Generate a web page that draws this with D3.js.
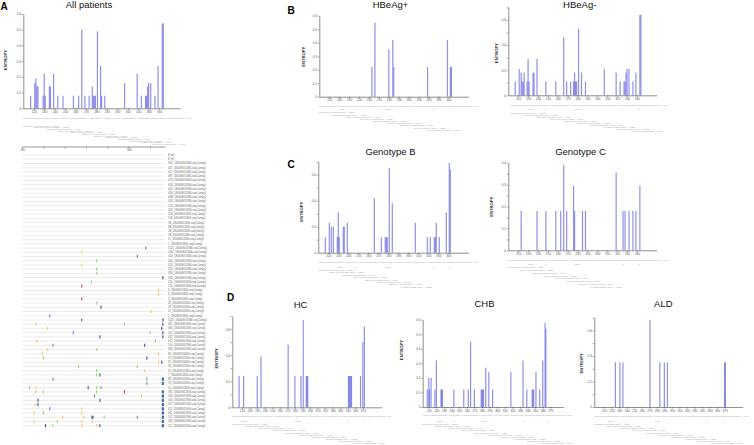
<!DOCTYPE html>
<html><head><meta charset="utf-8">
<script src="https://cdn.jsdelivr.net/npm/d3@7"></script>
<style>body{margin:0;background:#fff}svg{display:block}text{font-family:"Liberation Sans",Arial,Helvetica,sans-serif}</style>
</head><body><svg id="c" width="754" height="445"></svg>
<script>
// ---------------- DATA ----------------
const posTicks = [220,230,240,250,260,270,280,290,300,310,320,330,340];
const dTicks = [210,220,230,240,250,260,270,280,290,300,310,320,330,340,350,360,370];

const allPos = [217,221,222,223,224,229,230,231,235,236,239,243,248,258,263,266,269,273,276,277,278,279,281,284,285,288,307,319,323,327,328,329,330,332,336,339,343,344];
const allVal = [0.08,0.16,0.19,0.14,0.14,0.08,0.22,0.08,0.14,0.14,0.22,0.08,0.08,0.08,0.08,0.50,0.08,0.08,0.14,0.08,0.08,0.08,0.49,0.27,0.08,0.08,0.16,0.22,0.08,0.08,0.08,0.14,0.16,0.16,0.08,0.27,0.54,0.54];

const hbPlusPos = [263,266,280,284,285,319,339,342,343];
const hbPlusVal = [0.22,0.55,0.35,0.42,0.22,0.22,0.42,0.22,0.22];

const hbMinusPos = [217,221,223,224,225,226,229,230,231,235,236,239,248,258,266,269,273,276,277,278,279,281,284,288,307,319,323,327,328,329,330,332,336,339,343,344];
const hbMinusVal = [0.11,0.21,0.18,0.11,0.11,0.18,0.11,0.29,0.11,0.18,0.18,0.29,0.11,0.11,0.46,0.11,0.11,0.11,0.18,0.11,0.11,0.53,0.18,0.11,0.21,0.18,0.11,0.11,0.11,0.18,0.21,0.21,0.11,0.18,0.64,0.64];

const genBPos = [217,221,223,225,229,230,231,235,236,239,266,273,277,278,279,281,284,307,319,322,326,327,328,331,338,341,342];
const genBVal = [0.12,0.23,0.2,0.2,0.12,0.31,0.12,0.2,0.2,0.23,0.42,0.12,0.12,0.12,0.12,0.65,0.38,0.23,0.12,0.12,0.12,0.12,0.23,0.12,0.31,0.69,0.64];

const genCPos = [223,239,248,258,263,266,269,276,277,285,288,319,326,328,332,336,339,343];
const genCVal = [0.18,0.18,0.18,0.18,0.18,0.39,0.18,0.295,0.18,0.18,0.18,0.355,0.18,0.18,0.18,0.18,0.18,0.295];

const hcPos = [206,212,230,235,271,280,288,291,295,296,297,351,352,353,354,355,367,370,372];
const hcVal = [0.24,0.24,0.24,0.39,0.48,0.24,0.24,0.67,0.24,0.24,0.24,0.24,0.24,0.24,0.24,0.24,0.24,0.5,0.62];

const chbPos = [208,210,211,213,218,220,226,227,228,243,256,262,265,270,279,280,281,282,285,289,294,318,334,339,346,347,348,351,356,360,363,364];
const chbVal = [0.12,0.2,0.12,0.2,0.12,0.32,0.12,0.12,0.12,0.12,0.12,0.12,0.45,0.12,0.12,0.12,0.12,0.12,0.27,0.24,0.12,0.24,0.32,0.12,0.12,0.12,0.12,0.24,0.12,0.32,0.58,0.54];

const aldPos = [225,231,235,271,284,290,294,370,371];
const aldVal = [0.35,0.35,0.35,0.68,0.35,0.35,0.35,0.35,0.35];

// alignment (panel A bottom)
const rowIds = ["B (m)","E (m)","56U","46T","45T","49T","47S","40S","40D","43D","40R","41D","22D","20D","11B","11B","7B","8B","2B","1B","11","1","1023","1062","41D","44D","42D","32D","33D","29D","11D","11D","8","3","3","26","28","21","2","1023","381","480","442","437","412","510","356","86","87","81","36","35","7","88","74","10","332","436","456","447","411","461","512","336","112"];
const rulerTicks = [200,220,240,260,280,300,320];
const markRow = [22,23,24,25,26,27,28,29,30,31,32,33,34,35,36,37,38,39,39,40,40,40,41,41,42,42,42,43,43,44,44,45,45,46,46,47,47,48,48,49,49,50,50,51,51,52,52,53,53,53,54,54,55,55,55,55,55,56,56,56,56,56,57,57,57,58,58,58,59,59,59,60,60,60,61,61,61,61,62,62,62,62,62,62,63,63,63,63,63,64,64,64,64,64,64];
const markPos = [316,256,308,270,256,270,270,332,265,256,328,328,256,270,274,321,226,256,332,213,296,332,224,331,248,320,332,273,332,214,325,229,315,224,270,219,328,220,317,328,331,253,308,270,315,270,273,229,317,332,317,332,207,213,262,270,274,213,220,270,296,332,268,312,332,215,273,332,213,215,332,226,256,332,211,220,256,332,238,258,266,277,308,332,211,233,256,266,332,222,229,256,270,273,332];
const markBase = ["N","G","N","A","G","A","A","C","A","T","G","G","T","A","C","G","R","T","C","G","A","C","G","C","R","A","C","C","C","G","A","N","C","G","A","G","G","A","C","G","C","A","A","A","G","A","C","N","N","-","N","-","A","G","C","A","N","G","A","A","T","-","N","G","-","C","C","-","G","C","-","R","G","-","G","A","G","-","G","G","-","A","N","-","G","A","G","G","-","C","A","G","G","C","-"];

const consensus = "CTCGTGGTGGACTTCTCTCAATTTTCTAGGGGGAACACCCGTGTGTCTTGGCCAAAATTCGCAGTCCCAAATCTCCAGTCACTCACCAACCTGTTGTCCTCCAATTTGTCCTGGTTATCGCTGGATGTGTCTGCGGCG";
const groupNames = ["Consensus_all","B180409051","C180409051","HBeAg_pos","HBeAg_neg","Genotype_B","Genotype_C","HC_group","CHB_group","ALD_group","LC_group","HCC_group"];
const groupEntropy = ["0.2395","0.1883","0.0996","0.2016","0.1554","0.1772","0.0854","0.1321","0.0702","0.1245","0.1108","0.0931"];
const siteCounts = ["1,0,3","1","1,1,2","1","1"];
const siteCountPos = [232,248,279,326,342];
const hcCountPos = [211,247,284,351,371];
const chbCountPos = [224,243,283,335,366];
const aldCountPos = [218,239,281,347,370];

// ---------------- DRAW ----------------
const svg = d3.select("#c");
svg.append("rect").attr("width",754).attr("height",445).attr("fill","#fff");
const BAR = "#6c6ce0";
const baseColor = {A:"#86d96a",G:"#f0c860",T:"#b8403c",C:"#3a3aa0",N:"#6f8399",R:"#7b70d8","-":"#4a6fa5"};

// tiny text whose font size is fitted (never enlarged) so its natural width is at most len
function tiny(x, y, str, len, size, color) {
  const t = svg.append("text").attr("x", x).attr("font-size", size).attr("fill", color || "#888").text(str);
  const w = t.node().getComputedTextLength();
  const fs = w > len ? size * len / w : size;
  t.attr("font-size", fs).attr("y", y + fs * 0.35);
}

function yTickSet(max, step, labelEvery) {
  const n = Math.round(max/step);
  const vals = d3.range(n+1).map(i => +(i*step).toFixed(3));
  const labs = vals.map((v,i) => (i % labelEvery === 0) ? (v===0 ? "0" : d3.format(".1f")(v)) : "");
  return {vals, labs};
}

function barPanel(p) {
  const g = svg.append("g");
  const x = d3.scaleLinear().domain(p.xDomain).range([p.x0, p.x1]);
  const y = d3.scaleLinear().domain([0, p.yMax]).range([p.y0, p.yTop]);
  const data = p.pos.map((d,i) => ({pos:d, val:p.val[i]}));
  g.selectAll("rect.bar").data(data).join("rect").attr("class","bar")
    .attr("x", d => x(d.pos) - 0.6).attr("width", 1.2)
    .attr("y", d => y(d.val)).attr("height", d => y(0) - y(d.val))
    .attr("fill", BAR).attr("fill-opacity", 0.75);
  const yt = yTickSet(p.yMax, p.yStep, p.yLabelEvery);
  const ya = g.append("g").attr("transform", `translate(${p.x0},0)`)
    .call(d3.axisLeft(y).tickValues(yt.vals).tickSize(1.6).tickSizeOuter(0).tickPadding(0.8)
      .tickFormat((d,i) => yt.labs[i]));
  const xa = g.append("g").attr("transform", `translate(0,${p.y0})`)
    .call(d3.axisBottom(x).tickValues(p.xTicks.filter(t => t >= p.xDomain[0] && t <= p.xDomain[1]))
      .tickSize(1.6).tickSizeOuter(0).tickPadding(0.8));
  [ya, xa].forEach(a => {
    a.selectAll("path.domain").attr("stroke","#444").attr("stroke-width",0.6);
    a.selectAll("line").attr("stroke","#444").attr("stroke-width",0.5);
    a.selectAll("text").attr("font-size",3).attr("fill","#555").attr("font-family",null);
  });
  svg.append("text").attr("x", p.titleX).attr("y", p.titleY).attr("text-anchor","middle")
    .attr("font-size", 9.5).attr("fill","#111").text(p.title);
  svg.append("text").attr("transform", `translate(${p.entX},${p.entY}) rotate(-90)`)
    .attr("text-anchor","middle").attr("font-size",4.2).attr("font-weight","bold").attr("fill","#333").text("ENTROPY");
  tiny(p.long[0], p.long[1], "Consensus " + consensus + " (average entropy = " + groupEntropy[2] + ")", p.long[2]-p.long[0], 2.2, "#999");
  if (p.countPos) {
    p.countPos.forEach((c,i) => {
      svg.append("text").attr("x", x(c)).attr("y", p.countY + 1).attr("text-anchor","middle")
        .attr("font-size", 2.4).attr("fill","#888").text(siteCounts[i]);
    });
  }
  const s = p.stair;
  for (let i = 0; i < s.n; i++) {
    const t = s.n > 1 ? i/(s.n-1) : 0;
    tiny(s.xs + (s.xe - s.xs)*t, s.ys + (s.ye - s.ys)*t,
      groupNames[i % groupNames.length] + " (average entropy = " + groupEntropy[i % groupEntropy.length] + ")", s.len, 1.9, "#999");
  }
}

const evenLab = 2;
barPanel({pos:allPos, val:allVal, x0:23.3, x1:180, y0:108.3, yTop:14, xDomain:[210,360], xTicks:posTicks,
  yMax:0.6, yStep:0.1, yLabelEvery:1, title:"All patients", titleX:89, titleY:8, entX:7, entY:60,
  long:[23,118,193], stair:{n:12, xs:23, xe:152, ys:126, ye:144.3, len:40}});
barPanel({pos:hbPlusPos, val:hbPlusVal, x0:319.3, x1:468.3, y0:96.7, yTop:15.7, xDomain:[210,360], xTicks:posTicks,
  yMax:0.6, yStep:0.1, yLabelEvery:1, title:"HBeAg+", titleX:390.5, titleY:8.3, entX:305, entY:56.7,
  long:[319,106,480], countPos:siteCountPos, countY:108.7, stair:{n:9, xs:319, xe:427, ys:112.7, ye:130, len:48}});
barPanel({pos:hbMinusPos, val:hbMinusVal, x0:508.3, x1:656.7, y0:95.3, yTop:7.3, xDomain:[210,360], xTicks:posTicks,
  yMax:0.7, yStep:0.1, yLabelEvery:evenLab, title:"HBeAg-", titleX:579.7, titleY:8.3, entX:498.3, entY:53,
  long:[510,105.3,668], countPos:siteCountPos, countY:109.2, stair:{n:10, xs:510, xe:630, ys:113, ye:131, len:38}});
barPanel({pos:genBPos, val:genBVal, x0:318.3, x1:468.3, y0:252.7, yTop:161.7, xDomain:[210,360], xTicks:posTicks,
  yMax:0.7, yStep:0.1, yLabelEvery:evenLab, title:"Genotype B", titleX:390.5, titleY:154.5, entX:303.3, entY:211.7,
  long:[318,262.7,478], countPos:siteCountPos, countY:266.7, stair:{n:8, xs:318, xe:400, ys:270.3, ye:287, len:48}});
barPanel({pos:genCPos, val:genCVal, x0:508.3, x1:656.7, y0:250.3, yTop:162.7, xDomain:[210,360], xTicks:posTicks,
  yMax:0.4, yStep:0.05, yLabelEvery:2, title:"Genotype C", titleX:580.5, titleY:154.5, entX:492.7, entY:206.7,
  long:[508,260,668], countPos:siteCountPos, countY:264.3, stair:{n:8, xs:508, xe:590, ys:267.7, ye:287, len:48}});
barPanel({pos:hcPos, val:hcVal, x0:232.3, x1:381.7, y0:407.3, yTop:316, xDomain:[197,395], xTicks:dTicks,
  yMax:0.7, yStep:0.1, yLabelEvery:evenLab, title:"HC", titleX:300.5, titleY:308, entX:218.3, entY:358.3,
  long:[232,416.7,393], countPos:hcCountPos, countY:420.5, stair:{n:10, xs:232, xe:352, ys:424.5, ye:443.5, len:40}});
barPanel({pos:chbPos, val:chbVal, x0:422.7, x1:563.3, y0:407, yTop:319.7, xDomain:[202,387], xTicks:dTicks,
  yMax:0.6, yStep:0.1, yLabelEvery:1, title:"CHB", titleX:484.5, titleY:306.5, entX:402.7, entY:350,
  long:[422.7,416,573], countPos:chbCountPos, countY:420.5, stair:{n:10, xs:422, xe:540, ys:424.5, ye:443.5, len:38}});
barPanel({pos:aldPos, val:aldVal, x0:594.3, x1:742.7, y0:407, yTop:317.7, xDomain:[197,394], xTicks:dTicks,
  yMax:0.7, yStep:0.1, yLabelEvery:evenLab, title:"ALD", titleX:663.3, titleY:307, entX:583.3, entY:363.3,
  long:[594,416.7,750], countPos:aldCountPos, countY:421, stair:{n:10, xs:594, xe:710, ys:424.5, ye:443.5, len:40}});

[["A",0.5,10],["B",287.5,13.5],["C",287.5,167.5],["D",227,300.5]].forEach(([t,x,y]) =>
  svg.append("text").attr("x",x).attr("y",y).attr("font-size",10).attr("font-weight","bold").attr("fill","#000").text(t));

// ---------------- alignment ----------------
const ax = d3.scaleLinear().domain([200,334]).range([22,165]);
const ry = d3.scalePoint().domain(d3.range(rowIds.length)).range([155,425.7]);
const ruler = svg.append("g").attr("transform","translate(0,146.5)")
  .call(d3.axisBottom(ax).tickValues(rulerTicks).tickSize(2).tickSizeOuter(0).tickPadding(0.6)
    .tickFormat(d => d % 100 === 0 ? d : ""));
ruler.selectAll("path.domain").attr("stroke","#555").attr("stroke-width",0.6);
ruler.selectAll("line").attr("stroke","#555").attr("stroke-width",0.5);
ruler.selectAll("text").attr("font-size",2.8).attr("fill","#555").attr("font-family",null);

const rows = svg.append("g");
rows.selectAll("line").data(rowIds).join("line")
  .attr("x1", ax(200)).attr("x2", ax(334)).attr("y1", (d,i) => ry(i)).attr("y2", (d,i) => ry(i))
  .attr("stroke","#dedede").attr("stroke-width",0.6);
rows.selectAll("text").data(rowIds).join("text")
  .attr("x", 168).attr("y", (d,i) => ry(i) + 0.9).attr("font-size",2.6).attr("fill","#666")
  .text((d,i) => i < 2 ? d : d + "_180409051806.seq.Contig1");

const marks = markRow.map((r,i) => ({r, pos:markPos[i], b:markBase[i]}));
svg.append("g").selectAll("rect").data(marks).join("rect")
  .attr("x", d => ax(d.pos) - (d.b === "-" ? 1.1 : 0.5))
  .attr("width", d => d.b === "-" ? 2.2 : 1)
  .attr("y", d => ry(d.r) - 1.6).attr("height", 3.2)
  .attr("fill", d => baseColor[d.b]);
</script></body></html>
